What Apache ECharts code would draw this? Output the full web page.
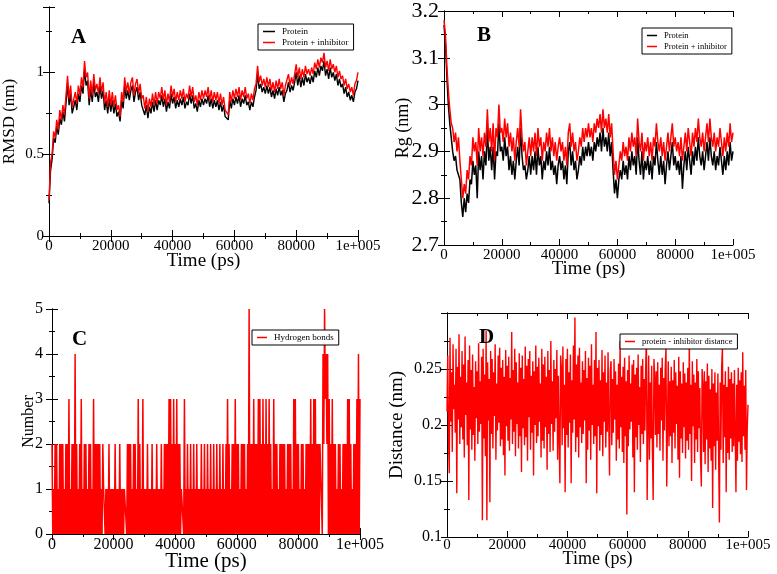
<!DOCTYPE html>
<html><head><meta charset="utf-8">
<script src="https://cdn.jsdelivr.net/npm/echarts@6/dist/echarts.min.js"></script>
<style>html,body{margin:0;padding:0;background:#fff}#c{width:777px;height:574px}</style>
</head><body><div id="c"></div>
<script>
// ---------- data ----------
const timeStepPs = 500;      // sampling step of RMSD and Rg series
const denseStepPs = 250;     // sampling step of hydrogen-bond and distance series
const timeTicks = [0, 20000, 40000, 60000, 80000, 100000];

// A: RMSD (nm)
const rmsdProtein = [
0.2,0.4,0.47,0.6,0.57,0.67,0.62,0.72,0.68,0.76,
0.7,0.81,0.93,0.8,0.87,0.75,0.74,0.83,0.77,0.87,
0.82,0.92,0.87,1.02,0.92,0.95,0.8,0.9,0.82,0.94,
0.85,0.88,0.82,0.92,0.84,0.89,0.77,0.83,0.75,0.84,
0.76,0.83,0.75,0.81,0.73,0.76,0.7,0.83,0.78,0.92,
0.84,0.89,0.83,0.89,0.92,0.82,0.88,0.91,0.83,0.88,
0.8,0.81,0.74,0.8,0.72,0.79,0.75,0.82,0.76,0.83,
0.77,0.83,0.8,0.86,0.79,0.84,0.76,0.82,0.78,0.87,
0.81,0.85,0.78,0.83,0.79,0.84,0.8,0.85,0.78,0.82,
0.8,0.87,0.81,0.86,0.78,0.81,0.76,0.83,0.79,0.84,
0.8,0.84,0.81,0.86,0.79,0.84,0.78,0.83,0.79,0.83,
0.77,0.82,0.76,0.8,0.73,0.74,0.71,0.83,0.78,0.84,
0.8,0.85,0.81,0.86,0.79,0.84,0.81,0.86,0.8,0.82,
0.77,0.82,0.79,0.85,0.89,0.99,0.9,0.93,0.88,0.91,
0.87,0.92,0.87,0.91,0.85,0.89,0.84,0.9,0.86,0.91,
0.86,0.89,0.82,0.87,0.89,0.94,0.88,0.92,0.89,0.94,
1.0,0.92,0.98,0.91,0.97,0.92,0.99,0.94,0.97,0.93,
0.98,0.94,1.01,0.97,1.03,0.98,1.04,1.01,1.07,0.98,
1.02,0.96,1.03,0.97,1.0,0.95,0.99,0.92,0.96,0.91,
0.93,0.87,0.91,0.85,0.88,0.83,0.86,0.82,0.88,0.9,
0.95];
const rmsdComplex = [
0.22,0.45,0.5,0.64,0.6,0.71,0.65,0.77,0.71,0.8,
0.74,0.86,0.98,0.84,0.92,0.79,0.78,0.88,0.81,0.92,
0.86,0.97,0.91,1.07,0.97,1.0,0.84,0.95,0.86,0.99,
0.89,0.93,0.87,0.97,0.88,0.94,0.81,0.88,0.79,0.89,
0.8,0.88,0.79,0.86,0.77,0.8,0.73,0.88,0.82,0.97,
0.88,0.94,0.87,0.94,0.97,0.86,0.93,0.96,0.87,0.93,
0.84,0.86,0.78,0.85,0.76,0.84,0.79,0.87,0.8,0.88,
0.81,0.88,0.84,0.91,0.83,0.89,0.8,0.87,0.82,0.92,
0.85,0.9,0.82,0.88,0.83,0.89,0.84,0.9,0.82,0.87,
0.84,0.92,0.85,0.91,0.82,0.86,0.8,0.88,0.83,0.89,
0.84,0.89,0.85,0.91,0.83,0.89,0.82,0.88,0.83,0.88,
0.81,0.87,0.8,0.85,0.77,0.78,0.74,0.88,0.82,0.89,
0.84,0.9,0.85,0.91,0.83,0.89,0.85,0.91,0.84,0.87,
0.81,0.87,0.83,0.9,0.93,1.04,0.94,0.98,0.92,0.96,
0.91,0.97,0.91,0.96,0.89,0.94,0.88,0.95,0.9,0.96,
0.9,0.94,0.86,0.92,0.93,0.99,0.92,0.97,0.93,0.99,
1.05,0.97,1.03,0.96,1.02,0.97,1.04,0.99,1.02,0.98,
1.03,0.99,1.06,1.02,1.08,1.03,1.09,1.06,1.12,1.03,
1.07,1.01,1.08,1.02,1.05,1.0,1.04,0.97,1.01,0.96,
0.98,0.92,0.96,0.9,0.93,0.88,0.91,0.86,0.93,0.95,
1.0];

// B: Rg (nm)
const rgProtein = [
3.17,3.13,3.06,3.0,2.96,2.93,2.9,2.88,2.89,2.86,
2.86,2.84,2.79,2.76,2.8,2.77,2.81,2.79,2.84,2.83,
2.88,2.85,2.87,2.8,2.9,2.86,2.89,2.84,2.9,2.87,
2.95,2.88,2.91,2.86,2.91,2.84,2.9,2.89,2.96,2.9,
2.91,2.88,2.93,2.89,2.91,2.86,2.89,2.85,2.88,2.84,
2.88,2.91,2.87,2.95,2.89,2.86,2.87,2.84,2.86,2.89,
2.85,2.89,2.86,2.9,2.85,2.91,2.87,2.89,2.84,2.88,
2.86,2.9,2.87,2.91,2.86,2.88,2.85,2.87,2.83,2.87,
2.89,2.86,2.88,2.84,2.87,2.83,2.9,2.92,2.87,2.9,
2.86,2.88,2.84,2.86,2.89,2.87,2.91,2.88,2.91,2.89,
2.92,2.89,2.91,2.88,2.92,2.9,2.93,2.91,2.94,2.9,
2.95,2.91,2.93,2.9,2.94,2.89,2.92,2.86,2.81,2.84,
2.8,2.84,2.86,2.84,2.88,2.85,2.87,2.84,2.89,2.86,
2.9,2.87,2.89,2.85,2.93,2.88,2.85,2.9,2.84,2.88,
2.86,2.89,2.85,2.88,2.84,2.89,2.87,2.92,2.88,2.85,
2.89,2.85,2.88,2.83,2.87,2.9,2.86,2.89,2.92,2.87,
2.89,2.86,2.88,2.85,2.89,2.82,2.87,2.9,2.86,2.91,
2.88,2.85,2.9,2.87,2.91,2.88,2.93,2.89,2.87,2.9,
2.86,2.89,2.92,2.88,2.93,2.89,2.87,2.9,2.86,2.89,
2.87,2.91,2.88,2.85,2.89,2.86,2.9,2.87,2.92,2.88,
2.9];
const rgComplex = [
3.18,3.15,3.08,3.03,2.99,2.96,2.95,2.92,2.94,2.9,
2.93,2.88,2.84,2.8,2.83,2.81,2.86,2.84,2.89,2.87,
2.93,2.9,2.92,2.87,2.95,2.9,2.93,2.89,2.94,2.91,
2.99,2.92,2.95,2.9,2.96,2.88,2.95,2.93,3.0,2.94,
2.95,2.92,2.97,2.93,2.96,2.91,2.94,2.9,2.93,2.88,
2.92,2.95,2.91,2.99,2.93,2.9,2.92,2.87,2.9,2.93,
2.89,2.93,2.9,2.94,2.89,2.95,2.91,2.93,2.88,2.92,
2.9,2.94,2.91,2.95,2.9,2.93,2.89,2.92,2.88,2.91,
2.93,2.9,2.92,2.88,2.91,2.87,2.94,2.96,2.91,2.94,
2.9,2.92,2.88,2.9,2.93,2.91,2.95,2.92,2.95,2.93,
2.96,2.93,2.95,2.92,2.96,2.94,2.97,2.95,2.98,2.94,
2.99,2.95,2.97,2.94,2.98,2.93,2.96,2.9,2.85,2.88,
2.84,2.87,2.9,2.88,2.92,2.89,2.91,2.88,2.93,2.9,
2.94,2.91,2.93,2.89,2.97,2.92,2.9,2.94,2.88,2.92,
2.9,2.93,2.89,2.92,2.88,2.93,2.91,2.96,2.92,2.9,
2.93,2.89,2.92,2.88,2.91,2.94,2.9,2.93,2.96,2.91,
2.93,2.9,2.92,2.89,2.93,2.88,2.91,2.94,2.9,2.95,
2.92,2.89,2.94,2.91,2.95,2.92,2.97,2.93,2.91,2.94,
2.9,2.93,2.96,2.92,2.97,2.93,2.91,2.94,2.9,2.93,
2.91,2.95,2.92,2.89,2.93,2.9,2.94,2.91,2.96,2.92,
2.94];

// C: number of hydrogen bonds
const hbonds = [
2,0,1,0,2,0,2,0,1,0,2,0,2,0,2,0,1,0,2,0,
2,0,3,0,1,0,2,0,2,0,4,0,2,0,1,0,2,0,3,0,
1,0,2,0,2,0,1,0,2,0,2,0,1,0,3,0,2,0,2,0,
2,0,2,0,1,0,2,1,1,0,1,0,1,0,2,0,1,0,1,0,
1,0,2,0,1,0,1,0,2,0,1,0,1,0,1,1,1,0,2,0,
2,0,2,0,1,0,2,0,2,0,1,0,3,0,2,0,1,0,3,0,
1,0,1,0,2,0,1,0,1,0,2,0,1,0,1,0,2,0,1,0,
1,0,2,0,1,0,2,0,2,0,2,0,3,0,3,0,2,0,3,0,
2,0,3,0,2,0,2,0,1,1,1,0,3,0,1,0,2,0,1,0,
2,0,1,0,2,0,1,0,2,0,1,0,1,0,2,0,1,0,2,0,
1,0,2,0,1,0,2,0,1,0,2,0,1,0,2,0,1,0,2,0,
1,0,2,0,1,0,2,0,3,0,2,0,1,0,2,0,2,0,3,0,
2,0,2,0,1,0,2,0,2,0,2,0,1,0,2,0,5,0,2,0,
2,0,3,0,2,0,2,0,3,0,3,0,2,0,3,0,2,0,3,0,
2,0,3,0,2,0,1,0,3,0,2,0,2,0,1,0,2,0,2,0,
2,0,2,0,1,0,2,0,2,0,2,0,1,0,3,0,3,0,2,0,
2,0,1,0,2,0,2,0,1,0,2,0,2,0,2,0,3,0,2,0,
3,0,3,0,2,0,2,0,2,2,2,0,4,2,5,3,4,2,4,0,
3,0,2,0,3,0,2,0,2,0,1,0,2,0,2,0,1,0,2,0,
2,0,2,0,3,0,3,0,2,0,1,0,2,0,2,0,3,0,4,0,
3];

// D: protein - inhibitor distance (nm)
const distance = [
0.212,0.262,0.188,0.157,0.278,0.203,0.247,0.176,0.272,0.214,0.236,0.193,0.268,0.139,0.252,0.205,0.281,0.183,0.243,0.198,
0.266,0.187,0.254,0.171,0.279,0.209,0.238,0.182,0.258,0.133,0.271,0.196,0.249,0.178,0.263,0.191,0.234,0.168,0.257,0.206,
0.248,0.183,0.273,0.194,0.239,0.201,0.261,0.115,0.268,0.188,0.245,0.172,0.284,0.115,0.256,0.204,0.241,0.131,0.266,0.192,
0.259,0.179,0.247,0.208,0.272,0.169,0.237,0.195,0.262,0.202,0.269,0.181,0.251,0.187,0.258,0.173,0.243,0.155,0.267,0.199,
0.253,0.186,0.261,0.177,0.242,0.205,0.283,0.183,0.249,0.194,0.268,0.172,0.256,0.201,0.238,0.179,0.264,0.19,0.251,0.158,
0.262,0.197,0.241,0.182,0.27,0.189,0.253,0.168,0.259,0.207,0.266,0.178,0.244,0.193,0.257,0.155,0.248,0.2,0.271,0.184,
0.252,0.19,0.26,0.203,0.237,0.171,0.268,0.186,0.254,0.179,0.261,0.198,0.243,0.16,0.266,0.192,0.249,0.176,0.275,0.201,
0.239,0.177,0.258,0.194,0.25,0.206,0.267,0.169,0.244,0.188,0.148,0.262,0.251,0.182,0.27,0.197,0.236,0.14,0.259,0.191,
0.268,0.18,0.247,0.202,0.263,0.148,0.24,0.193,0.271,0.205,0.296,0.176,0.254,0.189,0.262,0.171,0.269,0.198,0.238,0.184,
0.257,0.192,0.249,0.204,0.266,0.148,0.242,0.178,0.26,0.195,0.253,0.169,0.272,0.2,0.236,0.183,0.258,0.19,0.283,0.139,
0.251,0.199,0.258,0.177,0.24,0.191,0.267,0.172,0.247,0.203,0.262,0.18,0.238,0.194,0.265,0.2,0.155,0.249,0.257,0.182,
0.241,0.193,0.259,0.205,0.248,0.168,0.236,0.187,0.255,0.179,0.275,0.198,0.243,0.176,0.252,0.166,0.26,0.19,0.239,0.12,
0.249,0.181,0.262,0.196,0.237,0.203,0.254,0.171,0.258,0.14,0.245,0.189,0.251,0.178,0.263,0.2,0.234,0.167,0.253,0.192,
0.259,0.183,0.241,0.195,0.25,0.28,0.133,0.201,0.262,0.169,0.238,0.188,0.253,0.176,0.133,0.259,0.243,0.191,0.248,0.18,
0.256,0.192,0.236,0.177,0.251,0.204,0.26,0.168,0.242,0.195,0.249,0.27,0.145,0.2,0.257,0.181,0.239,0.19,0.252,0.166,
0.24,0.193,0.258,0.179,0.247,0.201,0.235,0.169,0.261,0.153,0.248,0.188,0.237,0.175,0.256,0.198,0.246,0.17,0.238,0.186,
0.251,0.178,0.275,0.192,0.236,0.15,0.257,0.199,0.245,0.166,0.238,0.187,0.259,0.176,0.248,0.197,0.233,0.168,0.145,0.25,
0.236,0.176,0.248,0.165,0.239,0.187,0.255,0.158,0.244,0.179,0.232,0.168,0.25,0.126,0.237,0.181,0.247,0.16,0.229,0.186,
0.246,0.17,0.113,0.238,0.178,0.251,0.27,0.166,0.236,0.189,0.248,0.14,0.234,0.175,0.252,0.169,0.241,0.188,0.247,0.176,
0.237,0.181,0.249,0.192,0.14,0.236,0.168,0.251,0.185,0.24,0.174,0.247,0.167,0.265,0.19,0.235,0.178,0.249,0.142,0.197,
0.218];

// ---------- chart ----------
const SERIF = "'Liberation Serif','DejaVu Serif',serif";
const toPairs = (arr, step) => arr.map((v, i) => [i * step, v]);
const grids = [
  {left: 46, top: 7, width: 312, height: 229},
  {left: 444, top: 9, width: 289, height: 236},
  {left: 52, top: 309, width: 308, height: 225},
  {left: 447, top: 313, width: 301, height: 224}
];
const panelStyle = [
  {tick: 15, ytick: 15, name: 19, yname: 17, nameGap: 16, xMargin: 3, yMargin: 5, ynameGap: 31},
  {tick: 15, ytick: 22, name: 19, yname: 18, nameGap: 15, xMargin: 3, yMargin: 5, ynameGap: 32},
  {tick: 16, ytick: 16, name: 21, yname: 16, nameGap: 17, xMargin: 3, yMargin: 9, ynameGap: 15},
  {tick: 15, ytick: 16, name: 18, yname: 19, nameGap: 13, xMargin: 1, yMargin: 5, ynameGap: 40}
];
const yDefs = [
  {min: 0, max: 1.4, interval: 0.5, name: 'RMSD (nm)', hide: v => v > 1.2},
  {min: 2.7, max: 3.2, interval: 0.1, name: 'Rg (nm)', hide: v => false},
  {min: 0, max: 5, interval: 1, name: 'Number', hide: v => false},
  {min: 0.1, max: 0.3, interval: 0.05, name: 'Distance (nm)', hide: v => v > 0.29}
];
const xAxes = [], yAxes = [];
grids.forEach((g, i) => {
  const f = panelStyle[i];
  const tickCfg = {
    nameMoveOverlap: false,
    axisLine: {show: true, lineStyle: {color: '#000', width: 1}},
    axisTick: {show: true, inside: true, length: 6, lineStyle: {color: '#000'}},
    minorTick: {show: true, splitNumber: 2, length: 3, lineStyle: {color: '#000'}},
    splitLine: {show: false}
  };
  const xc = Object.assign({gridIndex: i, type: 'value', min: timeTicks[0],
    max: timeTicks[timeTicks.length - 1], interval: timeTicks[1] - timeTicks[0]}, tickCfg);
  xAxes.push(Object.assign({}, xc, {
    position: 'bottom', name: 'Time (ps)', nameLocation: 'middle', nameGap: f.nameGap,
    nameTextStyle: {fontFamily: SERIF, fontSize: f.name, color: '#000', verticalAlign: 'top'},
    axisLabel: {show: true, margin: f.xMargin, fontFamily: SERIF, fontSize: f.tick, color: '#000',
      formatter: v => (v === 100000 ? '1e+005' : String(v))}
  }));
  xAxes.push(Object.assign({}, xc, {position: 'top', axisLabel: {show: false}}));
  const y = yDefs[i];
  const yc = Object.assign({gridIndex: i, type: 'value', min: y.min, max: y.max, interval: y.interval}, tickCfg);
  yAxes.push(Object.assign({}, yc, {
    position: 'left', name: y.name, nameLocation: 'middle', nameGap: f.ynameGap,
    nameTextStyle: {fontFamily: SERIF, fontSize: f.yname, color: '#000'},
    axisLabel: {show: true, margin: f.yMargin, fontFamily: SERIF, fontSize: f.ytick, color: '#000',
      formatter: v => (y.hide(v) ? '' : String(+v.toFixed(3)))}
  }));
  yAxes.push(Object.assign({}, yc, {position: 'right', axisLabel: {show: false}}));
});

const lineSeries = (name, data, color, idx, width) => ({
  name, type: 'line', data, xAxisIndex: idx * 2, yAxisIndex: idx * 2,
  showSymbol: false, symbol: 'none', sampling: 'none', color, lineStyle: {color, width},
  animation: false, silent: true
});

const legendCommon = {
  orient: 'vertical', borderColor: '#000', borderWidth: 1, padding: [3, 5],
  backgroundColor: '#fff', z: 10,
  itemGap: 2, itemWidth: 10, itemHeight: 1.5, icon: 'rect', selectedMode: false,
  textStyle: {fontFamily: SERIF, fontSize: 9, color: '#000', padding: [0, 0, 0, 2]}
};
const smallText = Object.assign({}, legendCommon.textStyle, {fontSize: 8.5});

const option = {
  backgroundColor: '#fff',
  animation: false,
  grid: grids.map(g => Object.assign({show: false}, g)),
  xAxis: xAxes,
  yAxis: yAxes,
  legend: [
    Object.assign({}, legendCommon, {left: 258, top: 24, itemWidth: 12, data: ['Protein', 'Protein + inhibitor']}),
    Object.assign({}, legendCommon, {left: 642, top: 28, textStyle: smallText, data: ['Protein', 'Protein + inhibitor']}),
    Object.assign({}, legendCommon, {left: 252, top: 330, data: ['Hydrogen bonds']}),
    Object.assign({}, legendCommon, {left: 620, top: 334, textStyle: smallText, data: ['protein - inhibitor distance']})
  ],
  series: [
    lineSeries('Protein', toPairs(rmsdProtein, timeStepPs), '#000000', 0, 1.4),
    lineSeries('Protein + inhibitor', toPairs(rmsdComplex, timeStepPs), '#ff0000', 0, 1.4),
    lineSeries('Protein', toPairs(rgProtein, timeStepPs), '#000000', 1, 1.5),
    lineSeries('Protein + inhibitor', toPairs(rgComplex, timeStepPs), '#ff0000', 1, 1.5),
    lineSeries('Hydrogen bonds', toPairs(hbonds, denseStepPs), '#ff0000', 2, 1.5),
    lineSeries('protein - inhibitor distance', toPairs(distance, denseStepPs), '#ff0000', 3, 1.4)
  ],
  graphic: [
    {type: 'text', left: 71, top: 27, z: 20, style: {text: 'A', font: "bold 21px 'Liberation Serif'", fill: '#000'}},
    {type: 'text', left: 477, top: 25, z: 20, style: {text: 'B', font: "bold 21px 'Liberation Serif'", fill: '#000'}},
    {type: 'text', left: 72, top: 329, z: 20, style: {text: 'C', font: "bold 21px 'Liberation Serif'", fill: '#000'}},
    {type: 'text', left: 479, top: 327, z: 20, style: {text: 'D', font: "bold 21px 'Liberation Serif'", fill: '#000'}}
  ]
};
const chart = echarts.init(document.getElementById('c'), null, {renderer: 'canvas'});
chart.setOption(option);
</script>
</body></html>
